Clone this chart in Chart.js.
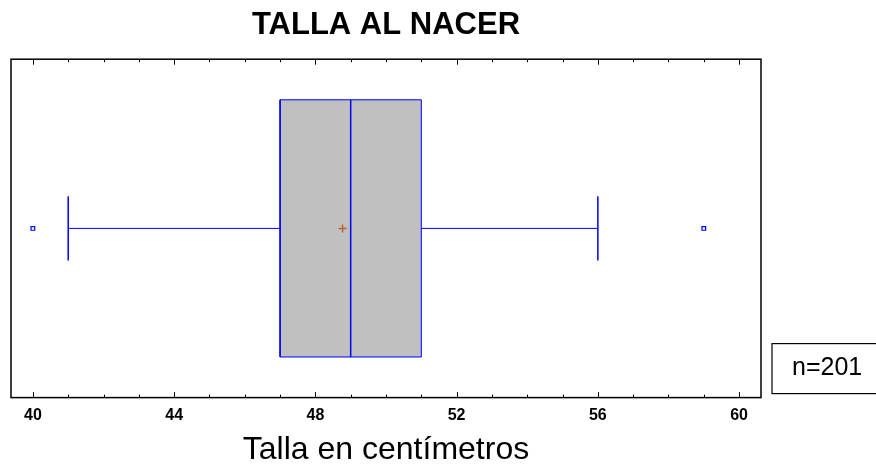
<!DOCTYPE html>
<html>
<head>
<meta charset="utf-8">
<script src="https://cdn.jsdelivr.net/npm/chart.js@4"></script>
<style>
  html, body { margin: 0; padding: 0; background: #fff; }
  #wrap { width: 876px; height: 470px; }
</style>
</head>
<body>
<div id="wrap"><canvas id="c" width="876" height="470"></canvas></div>
<script>
// ---- data ----
const chartTitle = 'TALLA AL NACER';
const axisTitle = 'Talla en centímetros';
const sampleSize = 201;
const q1 = [47];
const medianVal = [49];
const q3 = [51];
const whiskerLow = [41];
const whiskerHigh = [56];
const meanVal = [48.77];
const outliers = [40, 59];
const tickValues = [40, 44, 48, 52, 56, 60];

// ---- layout constants (not data) ----
const yMid = 0.5, boxLo = 0.12, boxHi = 0.88, capLo = 0.405, capHi = 0.595;
const BLUE = '#0000ff';

const lineDs = (pts, extra) => Object.assign({
  type: 'scatter', showLine: true, data: pts, borderColor: BLUE, borderWidth: 1,
  pointRadius: 0, tension: 0, fill: false
}, extra || {});

const datasets = [
  // box
  lineDs([
    {x: q1[0], y: boxLo}, {x: q3[0], y: boxLo}, {x: q3[0], y: boxHi},
    {x: q1[0], y: boxHi}, {x: q1[0], y: boxLo}
  ], {fill: 'shape', backgroundColor: '#c0c0c0', order: 10}),
  // median
  lineDs([{x: medianVal[0], y: boxLo}, {x: medianVal[0], y: boxHi}], {borderWidth: 1.5, order: 5}),
  // whiskers
  lineDs([{x: whiskerLow[0], y: yMid}, {x: q1[0], y: yMid}], {order: 5}),
  lineDs([{x: q3[0], y: yMid}, {x: whiskerHigh[0], y: yMid}], {order: 5}),
  lineDs([{x: whiskerLow[0], y: capLo}, {x: whiskerLow[0], y: capHi}], {borderWidth: 1.5, order: 5}),
  lineDs([{x: whiskerHigh[0], y: capLo}, {x: whiskerHigh[0], y: capHi}], {borderWidth: 1.5, order: 5}),
  // mean
  {type: 'scatter', data: meanVal.map(v => ({x: v, y: yMid})), pointStyle: 'cross',
   pointRadius: 4, borderColor: '#c0602a', borderWidth: 1.5, order: 1},
  // outliers
  {type: 'scatter', data: outliers.map(v => ({x: v, y: yMid})), pointStyle: 'rect',
   pointRadius: 2.6, borderColor: BLUE, backgroundColor: '#ffffff', borderWidth: 1.2, order: 1}
];

const framePlugin = {
  id: 'frame',
  afterDatasetsDraw(chart) {
    const {ctx, chartArea: a, scales: {x}} = chart;
    ctx.save();
    ctx.strokeStyle = '#000';
    ctx.lineWidth = 1;
    // ticks (inside, top and bottom)
    const start = Math.ceil(x.min), end = Math.floor(x.max);
    for (let v = start; v <= end; v++) {
      const px = Math.round(x.getPixelForValue(v)) + 0.5;
      const len = tickValues.includes(v) ? 5.5 : 3;
      ctx.beginPath();
      ctx.moveTo(px, a.bottom); ctx.lineTo(px, a.bottom - len);
      ctx.moveTo(px, a.top); ctx.lineTo(px, a.top + len);
      ctx.stroke();
    }
    // frame
    ctx.lineWidth = 1.5;
    ctx.strokeRect(a.left, a.top, a.right - a.left, a.bottom - a.top);
    // n box
    ctx.lineWidth = 1.2;
    ctx.strokeRect(a.right + 11, a.bottom - 54, 120, 50);
    ctx.fillStyle = '#000';
    ctx.font = '25px "Liberation Sans", Arial, sans-serif';
    ctx.textBaseline = 'middle';
    ctx.textAlign = 'left';
    ctx.fillText('n=' + sampleSize, a.right + 31, a.bottom - 29);
    ctx.restore();
  }
};

new Chart(document.getElementById('c'), {
  type: 'scatter',
  data: { datasets },
  options: {
    responsive: false,
    animation: false,
    layout: { padding: { left: 11, right: 115, top: 0, bottom: 0 } },
    plugins: {
      legend: { display: false },
      tooltip: { enabled: false },
      title: {
        display: true, text: chartTitle, color: '#000',
        font: { family: '"Liberation Sans", Arial, sans-serif', size: 31, weight: 'bold', lineHeight: 1.2 },
        padding: { top: 7, bottom: 15 }
      }
    },
    scales: {
      x: {
        type: 'linear', min: 39.38, max: 60.62,
        afterBuildTicks: s => { s.ticks = tickValues.map(v => ({ value: v })); },
        grid: { display: false, drawTicks: false },
        border: { display: false },
        ticks: {
          color: '#000', padding: 8, autoSkip: false, maxRotation: 0,
          font: { family: '"Liberation Sans", Arial, sans-serif', size: 16, weight: 'bold' },
          callback: v => String(v)
        },
        title: {
          display: true, text: axisTitle, color: '#000',
          font: { family: '"Liberation Sans", Arial, sans-serif', size: 32, lineHeight: 1.1 },
          padding: { top: 0, bottom: 2 }
        }
      },
      y: { type: 'linear', min: 0, max: 1, display: false }
    }
  },
  plugins: [framePlugin]
});
</script>
</body>
</html>
